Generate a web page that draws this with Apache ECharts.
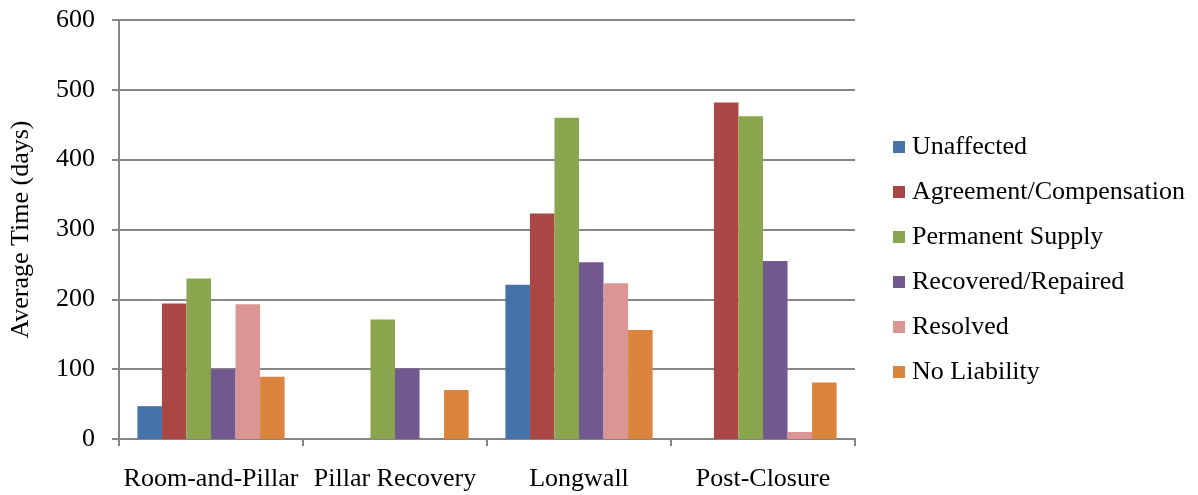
<!DOCTYPE html>
<html>
<head>
<meta charset="utf-8">
<script src="https://cdn.jsdelivr.net/npm/echarts@6/dist/echarts.min.js"></script>
<style>html,body{margin:0;padding:0;background:#fff}#c{width:1198px;height:495px}</style>
</head>
<body>
<div id="c"></div>
<script>
const categories = ['Room-and-Pillar', 'Pillar Recovery', 'Longwall', 'Post-Closure'];
const seriesNames = ['Unaffected', 'Agreement/Compensation', 'Permanent Supply', 'Recovered/Repaired', 'Resolved', 'No Liability'];
const unaffected = [47, null, 221, null];
const agreement = [194, null, 323, 482];
const permanent = [230, 171, 460, 462];
const recovered = [100, 101, 253, 255];
const resolved = [193, null, 223, 10];
const noLiability = [89, 70, 156, 81];
const yTicks = [0, 100, 200, 300, 400, 500, 600];
const colors = ['#4572A7', '#AA4643', '#89A54E', '#71588F', '#DB9694', '#DB843D'];

const allData = [unaffected, agreement, permanent, recovered, resolved, noLiability];
const font = 'Liberation Serif, Times New Roman, serif';
const chart = echarts.init(document.getElementById('c'));
chart.setOption({
  animation: false,
  color: colors,
  textStyle: { fontFamily: font },
  grid: { left: 119, right: 343, top: 20, bottom: 56 },
  legend: {
    orient: 'vertical', left: 893, top: 134, padding: 0,
    itemWidth: 12, itemHeight: 12, itemGap: 19,
    icon: 'rect',
    textStyle: { fontFamily: font, fontSize: 26, color: '#000', lineHeight: 26, padding: [0, 0, 0, 2] },
    data: seriesNames
  },
  xAxis: {
    type: 'category', data: categories,
    axisLine: { lineStyle: { color: '#868686', width: 2 } },
    axisTick: { show: true, length: 7, interval: 0, lineStyle: { color: '#868686', width: 2 } },
    axisLabel: { fontFamily: font, fontSize: 26, color: '#000', margin: 27, interval: 0 }
  },
  yAxis: {
    type: 'value', min: yTicks[0], max: yTicks[yTicks.length - 1], interval: 100,
    name: 'Average Time (days)', nameLocation: 'middle', nameGap: 85,
    nameTextStyle: { fontFamily: font, fontSize: 26, color: '#000' },
    axisLine: { show: true, lineStyle: { color: '#868686', width: 2 } },
    axisTick: { show: true, length: 7, lineStyle: { color: '#868686', width: 2 } },
    axisLabel: { fontFamily: font, fontSize: 26, color: '#000', margin: 24 },
    splitLine: { lineStyle: { color: '#868686', width: 2 } }
  },
  series: seriesNames.map((n, i) => ({
    name: n, type: 'bar', data: allData[i],
    barGap: '0%', barCategoryGap: '20%'
  }))
});
</script>
</body>
</html>
